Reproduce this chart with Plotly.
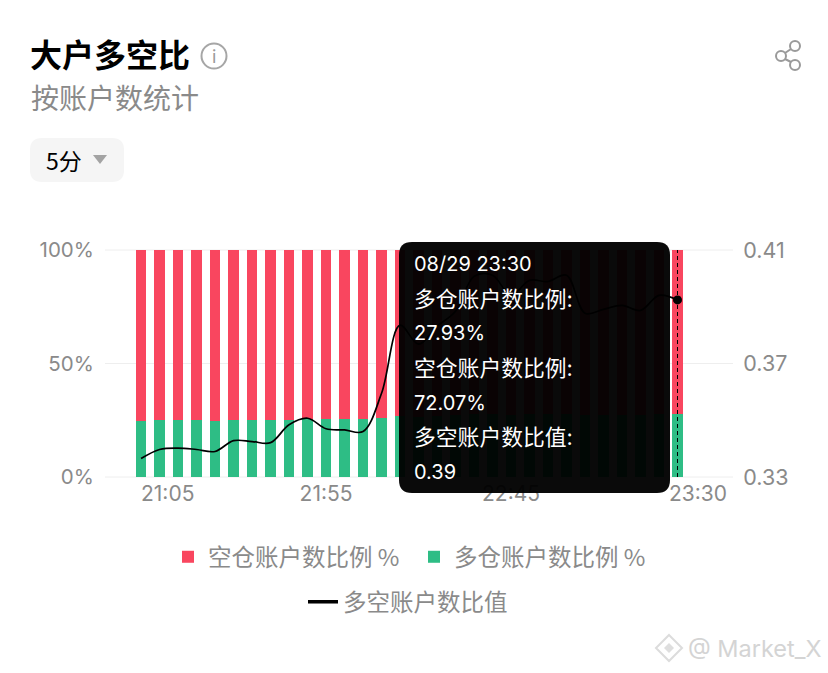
import plotly.graph_objects as go

times = ["21:05","21:10","21:15","21:20","21:25","21:30","21:35","21:40","21:45","21:50",
         "21:55","22:00","22:05","22:10","22:15","22:20","22:25","22:30","22:35","22:40",
         "22:45","22:50","22:55","23:00","23:05","23:10","23:15","23:20","23:25","23:30"]
long_pct = [24.8,24.9,24.9,24.9,24.8,25.0,25.0,25.0,25.0,25.5,
            25.4,25.5,25.5,26.0,26.7,26.6,26.9,27.2,27.6,27.6,
            27.5,27.6,27.6,27.7,27.3,27.4,27.5,27.4,27.9,27.93]
short_pct = [75.2,75.1,75.1,75.1,75.2,75.0,75.0,75.0,75.0,74.5,
             74.6,74.5,74.5,74.0,73.3,73.4,73.1,72.8,72.4,72.4,
             72.5,72.4,72.4,72.3,72.7,72.6,72.5,72.6,72.1,72.07]
ratio = [0.3365,0.3397,0.3402,0.3397,0.3390,0.3428,0.3425,0.3421,0.3484,0.3507,
         0.3470,0.3466,0.3460,0.3595,0.3835,0.3768,0.3831,0.3884,0.4007,0.4011,
         0.3940,0.3993,0.3989,0.4011,0.3877,0.3891,0.3905,0.3887,0.3940,0.3924]
left_ticks = [0, 50, 100]
right_ticks = [0.33, 0.37, 0.41]
mid_ticks = ["21:55", "22:45"]
tooltip_lines = ["08/29 23:30","多仓账户数比例:","27.93%","空仓账户数比例:","72.07%","多空账户数比值:","0.39"]
tooltip_sizes = [20, 21.8, 20, 21.8, 20, 21.8, 20]

W, H = 828, 673
L, R, T, B = 105, 733, 250, 477
FONT = "Inter, 'Noto Sans CJK SC', sans-serif"
CJK = "'Noto Sans CJK SC', sans-serif"
GREY = "#8a8a8a"
px = lambda v: (v - L) / (R - L)
py = lambda v: (B - v) / (B - T)

fig = go.Figure()
fig.add_bar(x=times, y=long_pct, name="多仓账户数比例 %", marker=dict(color="#2EBD85", line_width=0), legend="legend")
fig.add_bar(x=times, y=short_pct, name="空仓账户数比例 %", marker=dict(color="#F9465F", line_width=0), legend="legend")
fig.add_scatter(x=times, y=ratio, yaxis="y2", mode="lines", showlegend=False,
                line=dict(color="#000", width=1.7, shape="spline", smoothing=1))
fig.add_scatter(x=[None], y=[None], name="多空账户数比值", yaxis="y2", mode="lines",
                line=dict(color="#000", width=3.5), legend="legend2")
fig.add_scatter(x=times[-1:], y=ratio[-1:], yaxis="y2", mode="markers", showlegend=False,
                marker=dict(color="#000", size=9))

def rrect(x0, y0, x1, y1, r):
    a, b, c, d = px(x0), py(y0), px(x1), py(y1)
    rx, ry = r / (R - L), r / (B - T)
    return (f"M{a+rx},{b} L{c-rx},{b} Q{c},{b} {c},{b-ry} L{c},{d+ry} Q{c},{d} {c-rx},{d} "
            f"L{a+rx},{d} Q{a},{d} {a},{d+ry} L{a},{b-ry} Q{a},{b} {a+rx},{b} Z")

def paper_line(x0, y0, x1, y1, color, w, **kw):
    return dict(type="line", xref="paper", yref="paper", x0=px(x0), y0=py(y0), x1=px(x1), y1=py(y1),
                line=dict(color=color, width=w), **kw)

def paper_circle(cx, cy, r, line_color, w, fill="rgba(0,0,0,0)"):
    return dict(type="circle", xref="paper", yref="paper", x0=px(cx-r), x1=px(cx+r), y0=py(cy+r), y1=py(cy-r),
                line=dict(color=line_color, width=w), fillcolor=fill)

shapes = [
    # gridlines on the plot edges
    paper_line(L, T, R, T, "#eeeeee", 1, layer="below"),
    paper_line(L, B, R, B, "#eeeeee", 1, layer="below"),
    # dashed crosshair
    dict(type="line", xref="x", yref="paper", x0=times[-1], x1=times[-1], y0=0, y1=1,
         line=dict(color="#000", width=1, dash="4px,3px"), layer="above"),
    # tooltip
    dict(type="path", xref="paper", yref="paper", path=rrect(399, 242, 670, 493, 13),
         fillcolor="rgba(0,0,0,0.96)", line_width=0, layer="above"),
    # dropdown
    dict(type="path", xref="paper", yref="paper", path=rrect(30, 138, 124, 182, 12),
         fillcolor="#f5f5f5", line_width=0),
    dict(type="path", xref="paper", yref="paper",
         path=f"M{px(93)},{py(155)} L{px(107)},{py(155)} L{px(100)},{py(164)} Z",
         fillcolor="#a3a3a3", line_width=0),
    # info icon
    paper_circle(214, 56, 12.5, "#a6a6a6", 2),
    # share icon
    paper_line(785, 53, 791, 49, "#9a9a9a", 2),
    paper_line(785, 59, 791, 62, "#9a9a9a", 2),
    paper_circle(781, 56, 5, "#9a9a9a", 2, "#fff"),
    paper_circle(795, 46, 5, "#9a9a9a", 2, "#fff"),
    paper_circle(795, 65, 5, "#9a9a9a", 2, "#fff"),
    # watermark logo
    dict(type="path", xref="paper", yref="paper",
         path=f"M{px(669)},{py(635)} L{px(682)},{py(648)} L{px(669)},{py(661)} L{px(656)},{py(648)} Z",
         fillcolor="rgba(0,0,0,0)", line=dict(color="#dcdcdc", width=2)),
    dict(type="path", xref="paper", yref="paper",
         path=f"M{px(669)},{py(643)} L{px(674)},{py(648)} L{px(669)},{py(653)} L{px(664)},{py(648)} Z",
         fillcolor="#dedede", line_width=0),
]

def note(text, x, y, size, color, anchor="left", family=FONT, **kw):
    return dict(text=text, xref="paper", yref="paper", x=px(x), y=py(y), xanchor=anchor, yanchor="middle",
                showarrow=False, font=dict(size=size, color=color, family=family), **kw)

annotations = [
    note("按账户数统计", 29, 97, 28, GREY, family=CJK),
    note("5分", 44, 160, 23, "#000", family=CJK),
    note("i", 214, 56, 18, "#9a9a9a", anchor="center"),
    note("@ Market_X", 686, 648, 23.5, "#d4d4d4"),
    dict(text=times[0], xref="x", yref="paper", x=times[0], y=py(493), xanchor="left", yanchor="middle",
         xshift=-2, showarrow=False, font=dict(size=21, color=GREY, family=FONT)),
    dict(text=times[-1], xref="x", yref="paper", x=times[-1], y=py(493), xanchor="left", yanchor="middle",
         xshift=-11, showarrow=False, font=dict(size=21, color=GREY, family=FONT)),
]
for line, y, size in zip(tooltip_lines, [264, 299, 333, 368, 403, 437, 472], tooltip_sizes):
    annotations.append(note(line, 412, y, size, "#fff"))

axis_font = dict(size=21, color=GREY, family=FONT)
fig.update_layout(
    width=W, height=H,
    margin=dict(l=L, r=W-R, t=T, b=H-B),
    paper_bgcolor="#fff", plot_bgcolor="#fff",
    barmode="stack", bargap=0.44,
    title=dict(text="<b>大户多空比</b>", x=30/W, xanchor="left", y=1-56/H, yanchor="middle",
               xref="container", yref="container", font=dict(size=32, color="#000", family=CJK)),
    font=dict(family=FONT),
    xaxis=dict(type="category", categoryorder="array", categoryarray=times,
               range=[-1.95, 32.0], tickmode="array", tickvals=mid_ticks, ticktext=mid_ticks,
               tickfont=axis_font, showgrid=False, zeroline=False, showline=False,
               ticks="", ticklabelstandoff=2),
    yaxis=dict(range=[0, 100], tickmode="array", tickvals=left_ticks,
               ticktext=[f"{v}%" for v in left_ticks], tickfont=dict(size=20.5, color=GREY, family=FONT),
               gridcolor="#eeeeee", gridwidth=1, zeroline=False, showline=False,
               ticks="outside", ticklen=6, tickcolor="rgba(0,0,0,0)"),
    yaxis2=dict(range=[0.33, 0.41], overlaying="y", side="right", tickmode="array",
                tickvals=right_ticks, ticktext=[f"{v:.2f}" for v in right_ticks],
                tickfont=dict(size=21.5, color=GREY, family=FONT),
                showgrid=False, zeroline=False, showline=False,
                ticks="outside", ticklen=5, tickcolor="rgba(0,0,0,0)"),
    legend=dict(orientation="h", traceorder="reversed", x=px(168), xanchor="left", y=py(557), yanchor="middle",
                font=dict(size=23.5, color=GREY, family=CJK), itemwidth=30, bgcolor="rgba(0,0,0,0)",
                entrywidth=201, entrywidthmode="pixels"),
    legend2=dict(orientation="h", x=px(303), xanchor="left", y=py(602), yanchor="middle",
                 font=dict(size=23.5, color=GREY, family=CJK), itemwidth=30, bgcolor="rgba(0,0,0,0)"),
    shapes=shapes, annotations=annotations,
    hovermode=False,
)
fig.write_html("out.html", config=dict(displayModeBar=False),
               post_script="document.body.style.margin='0';")
